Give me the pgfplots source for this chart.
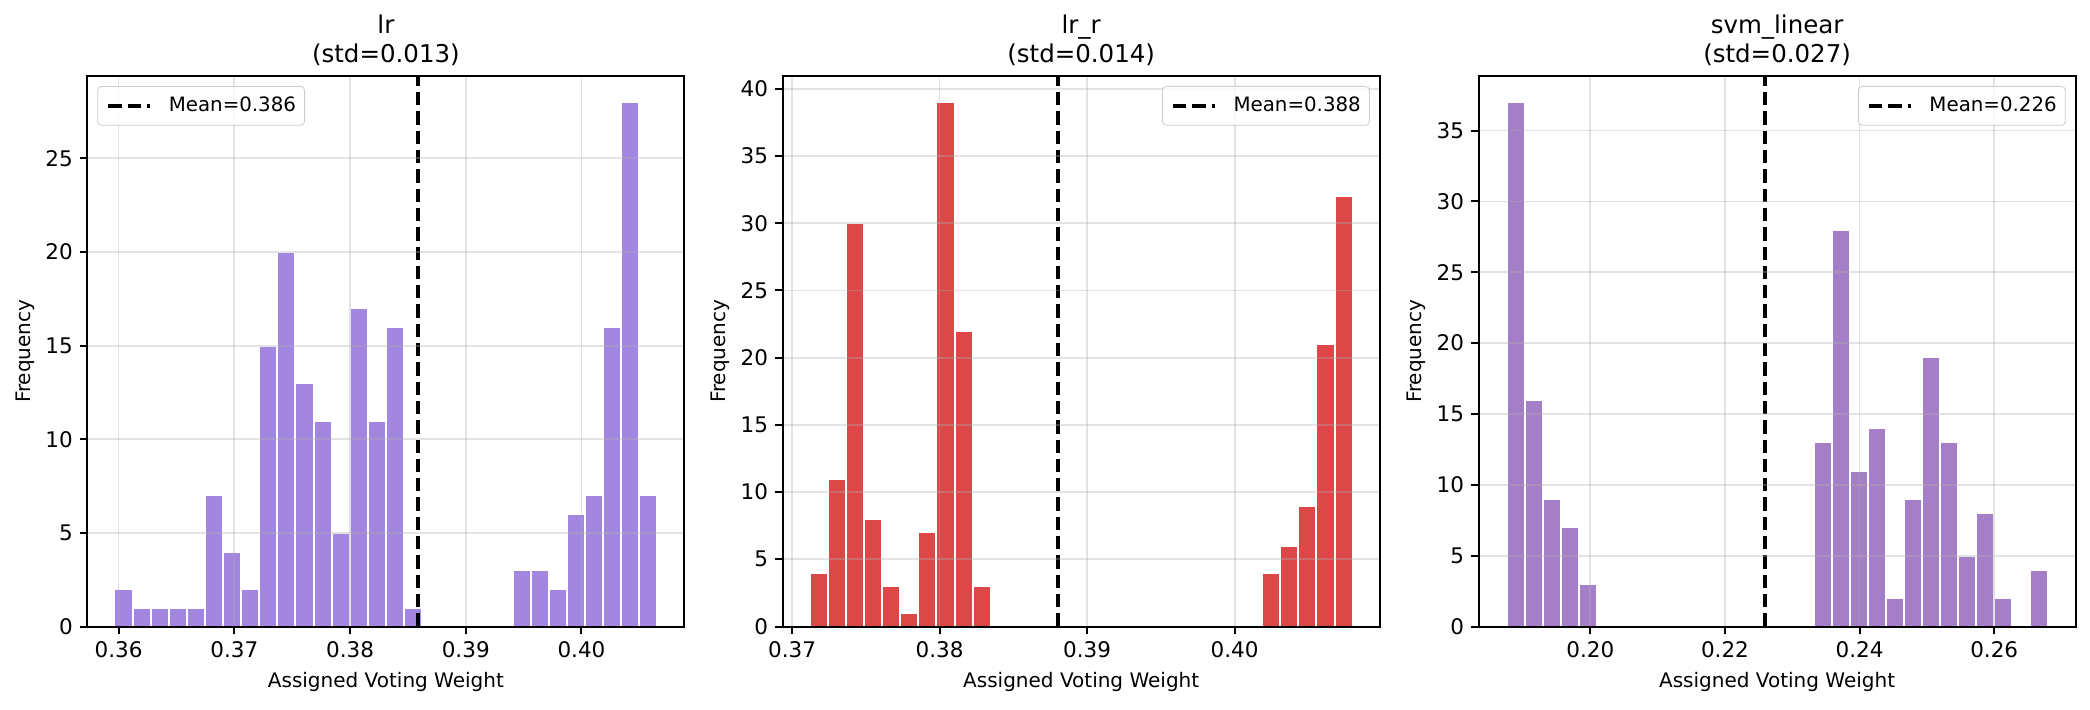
\documentclass[border=0pt]{standalone}
\usepackage{fontspec}
\setmainfont{DejaVu Sans}
\usepackage{pgfplots}
\pgfplotsset{compat=1.18}
\definecolor{pone}{RGB}{163,134,224}
\definecolor{ptwo}{RGB}{220,71,72}
\definecolor{pthree}{RGB}{164,126,199}
\definecolor{gridc}{RGB}{176,176,176}
\pgfplotsset{
  hstyle/.style={
    scale only axis, width=298.6pt, height=275.25pt,
    axis on top, ymin=0,
    /pgf/number format/assume math mode=true,
    scaled x ticks=false, scaled y ticks=false,
    xticklabel style={/pgf/number format/.cd, fixed, fixed zerofill, precision=2},
    tick align=outside, tick pos=left,
    major tick length=3.75pt,
    every tick/.style={black, line width=1pt},
    axis line style={black, line width=1pt},
    xmajorgrids, ymajorgrids,
    grid style={gridc, opacity=0.35, line width=0.9pt},
    tick label style={font=\fontsize{10.75}{12}\selectfont},
    label style={font=\fontsize{9.95}{12}\selectfont},
    xlabel={Assigned Voting Weight}, ylabel={Frequency},
    every axis x label/.style={at={(axis description cs:0.5,-0.1008)}, anchor=center},
    every axis y label/.style={at={(axis description cs:-0.1038,0.5)}, anchor=center, rotate=90},
    every axis title/.style={font=\fontsize{12.25}{14.5}\selectfont, align=center, at={(axis description cs:0.5,1)}, anchor=south, inner sep=0pt, yshift=5pt},
    legend style={font=\fontsize{9.9}{12}\selectfont, draw=black!20, rounded corners=2pt, fill=white, fill opacity=0.8, text opacity=1,
      inner xsep=4.3pt, inner ysep=0pt, column sep=8.3pt, nodes={inner xsep=0pt, inner ysep=5.3pt}},
    legend image code/.code={\draw[#1] (0pt,0pt) -- (20.85pt,0pt);},
  },
  bars/.style={ybar, bar shift=0pt, draw=white, line width=1pt, forget plot},
  meanline/.style={black, line width=2.1pt, dash pattern=on 6.65pt off 3pt},
}
\begin{document}
\begin{tikzpicture}
\useasboundingbox (0,0) rectangle (1045pt,354.5pt);
% ---------------- lr ----------------
\begin{axis}[hstyle, at={(43.65pt,41.25pt)}, anchor=south west,
  xmin=0.3573, xmax=0.4089, ymax=29.4,
  xtick={0.36,0.37,0.38,0.39,0.40}, ytick={0,5,10,15,20,25},
  title={lr\\(std=0.013)},
  legend style={at={(axis description cs:0,1)}, anchor=north west, xshift=5pt, yshift=-5pt}]
\addplot[bars, fill=pone, bar width=0.00156333] coordinates {
(0.36043167,2) (0.361995,1) (0.36355833,1) (0.36512167,1) (0.366685,1)
(0.36824833,7) (0.36981167,4) (0.371375,2) (0.37293833,15) (0.37450167,20)
(0.376065,13) (0.37762833,11) (0.37919167,5) (0.380755,17) (0.38231833,11)
(0.38388167,16) (0.385445,1)
(0.394825,3) (0.39638833,3) (0.39795167,2) (0.399515,6) (0.40107833,7)
(0.40264167,16) (0.404205,28) (0.40576833,7)};
\addplot[meanline] coordinates {(0.3859,0) (0.3859,29.4)};
\addlegendentry{Mean=0.386}
\end{axis}
% ---------------- lr_r ----------------
\begin{axis}[hstyle, at={(391.3pt,41.25pt)}, anchor=south west,
  xmin=0.36936, xmax=0.40984, ymax=40.95,
  xtick={0.37,0.38,0.39,0.40}, ytick={0,5,10,15,20,25,30,35,40},
  title={lr\_r\\(std=0.014)},
  legend style={at={(axis description cs:1,1)}, anchor=north east, xshift=-5pt, yshift=-5pt}]
\addplot[bars, fill=ptwo, bar width=0.00122667] coordinates {
(0.37181333,4) (0.37304,11) (0.37426667,30) (0.37549333,8) (0.37672,3)
(0.37794667,1) (0.37917333,7) (0.3804,39) (0.38162667,22) (0.38285333,3)
(0.40248,4) (0.40370667,6) (0.40493333,9) (0.40616,21) (0.40738667,32)};
\addplot[meanline] coordinates {(0.38804,0) (0.38804,40.95)};
\addlegendentry{Mean=0.388}
\end{axis}
% ---------------- svm_linear ----------------
\begin{axis}[hstyle, at={(739.25pt,41.25pt)}, anchor=south west,
  xmin=0.1834, xmax=0.2721, ymax=38.85,
  xtick={0.20,0.22,0.24,0.26}, ytick={0,5,10,15,20,25,30,35},
  title={svm\_linear\\(std=0.027)},
  legend style={at={(axis description cs:1,1)}, anchor=north east, xshift=-5pt, yshift=-5pt}]
\addplot[bars, fill=pthree, bar width=0.00268267] coordinates {
(0.18891133,37) (0.191594,16) (0.19427667,9) (0.19695933,7) (0.199642,3)
(0.23451667,13) (0.23719933,28) (0.239882,11) (0.24256467,14) (0.24524733,2)
(0.24793,9) (0.25061267,19) (0.25329533,13) (0.255978,5) (0.25866067,8)
(0.26134333,2) (0.26670867,4)};
\addplot[meanline] coordinates {(0.22598,0) (0.22598,38.85)};
\addlegendentry{Mean=0.226}
\end{axis}
\end{tikzpicture}
\end{document}
